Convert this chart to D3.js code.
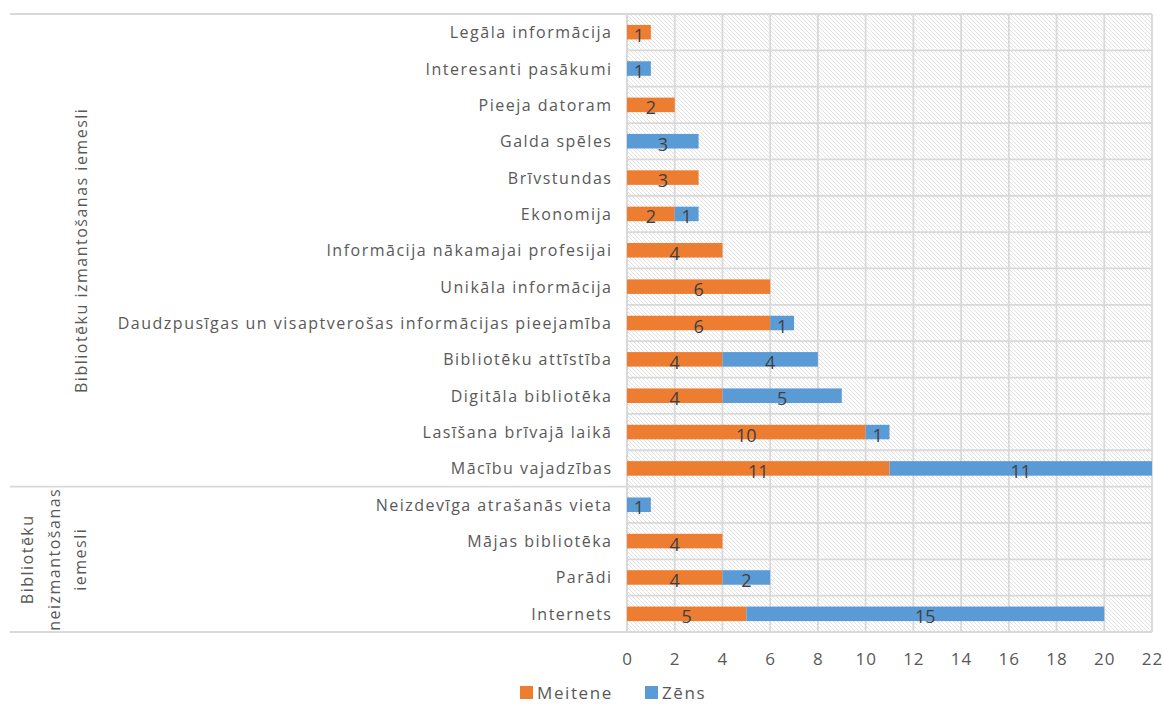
<!DOCTYPE html>
<html>
<head>
<meta charset="utf-8">
<script src="https://cdn.jsdelivr.net/npm/d3@7"></script>
<style>
  body { margin: 0; background: #fff; }
  text { font-family: "Open Sans", "Noto Sans", sans-serif; }
</style>
</head>
<body>
<svg id="chart" width="1164" height="704"></svg>
<script>
// data
var groups = ["Bibliotēku izmantošanas iemesli", "Bibliotēku neizmantošanas iemesli"];
var categories = [
    "Legāla informācija", "Interesanti pasākumi", "Pieeja datoram", "Galda spēles",
    "Brīvstundas", "Ekonomija", "Informācija nākamajai profesijai", "Unikāla informācija",
    "Daudzpusīgas un visaptverošas informācijas pieejamība", "Bibliotēku attīstība",
    "Digitāla bibliotēka", "Lasīšana brīvajā laikā", "Mācību vajadzības",
    "Neizdevīga atrašanās vieta", "Mājas bibliotēka", "Parādi", "Internets"
];
var categoryGroup = [0,0,0,0,0,0,0,0,0,0,0,0,0,1,1,1,1];
var meitene = [1, 0, 2, 0, 3, 2, 4, 6, 6, 4, 4, 10, 11, 0, 4, 4, 5];
var zens    = [0, 1, 0, 3, 0, 1, 0, 0, 1, 4, 5, 1, 11, 1, 0, 2, 15];
var seriesNames = ["Meitene", "Zēns"];
var xTicks = [0, 2, 4, 6, 8, 10, 12, 14, 16, 18, 20, 22];

var colors = ["#ED7D31", "#5B9BD5"];
var gridColor = "#d9d9d9";
var textColor = "#595959";
var ls = 1.5; // letter spacing of the labels

var svg = d3.select("#chart");
var pLeft = 627, pRight = 1152, pTop = 14, pBottom = 632;

var x = d3.scaleLinear().domain([0, 22]).range([pLeft, pRight]);
var y = d3.scaleBand().domain(categories).range([pTop, pBottom]).paddingInner(0.6).paddingOuter(0.3);
var half = (y.step() - y.bandwidth()) / 2;

// hatch background
var defs = svg.append("defs");
var pat = defs.append("pattern").attr("id", "hatch").attr("patternUnits", "userSpaceOnUse")
    .attr("width", 4).attr("height", 4);
pat.append("rect").attr("width", 4).attr("height", 4).attr("fill", "#fff");
pat.append("path").attr("d", "M-1,-1 L5,5 M-1,3 L1,5 M3,-1 L5,1")
    .attr("stroke", "#d6d6d6").attr("stroke-width", 0.7);
svg.append("rect").attr("x", pLeft).attr("y", pTop).attr("width", pRight - pLeft).attr("height", pBottom - pTop)
    .attr("fill", "url(#hatch)");

// grid
svg.append("g").selectAll("line").data(xTicks).join("line")
    .attr("x1", d => x(d)).attr("x2", d => x(d)).attr("y1", pTop).attr("y2", pBottom)
    .attr("stroke", gridColor).attr("stroke-width", 1.8);
var bounds = categories.map(c => y(c) - half).concat([pBottom]);
svg.append("g").selectAll("line").data(bounds).join("line")
    .attr("x1", pLeft).attr("x2", pRight).attr("y1", d => d).attr("y2", d => d)
    .attr("stroke", gridColor).attr("stroke-width", 1.8);

// group separators on the category axis
var groupBounds = [pTop];
categories.forEach(function(c, i) {
    if (i > 0 && categoryGroup[i] !== categoryGroup[i - 1]) groupBounds.push(y(c) - half);
});
groupBounds.push(pBottom);
svg.append("g").selectAll("line").data(groupBounds).join("line")
    .attr("x1", 10).attr("x2", pLeft).attr("y1", d => d).attr("y2", d => d)
    .attr("stroke", gridColor).attr("stroke-width", 1.8);
svg.append("line").attr("x1", pLeft).attr("x2", pLeft).attr("y1", pTop).attr("y2", pBottom)
    .attr("stroke", gridColor).attr("stroke-width", 1.8);

// bars
var stacked = categories.map((c, i) => ({ c: c, segs: [
    { s: 0, x0: 0, x1: meitene[i], v: meitene[i] },
    { s: 1, x0: meitene[i], x1: meitene[i] + zens[i], v: zens[i] }
]}));
var rows = svg.append("g").selectAll("g").data(stacked).join("g");
rows.selectAll("rect").data(d => d.segs.map(s => Object.assign({ c: d.c }, s)).filter(s => s.v > 0)).join("rect")
    .attr("x", d => x(d.x0)).attr("width", d => x(d.x1) - x(d.x0))
    .attr("y", d => y(d.c)).attr("height", y.bandwidth())
    .attr("fill", d => colors[d.s]);
rows.selectAll("text").data(d => d.segs.map(s => Object.assign({ c: d.c }, s)).filter(s => s.v > 0)).join("text")
    .attr("x", d => (x(d.x0) + x(d.x1)) / 2).attr("y", d => y(d.c) + y.bandwidth() / 2 + 9.5)
    .attr("text-anchor", "middle").attr("font-size", 18).attr("fill", "#404040")
    .text(d => d.v);

// category labels
svg.append("g").selectAll("text").data(categories).join("text")
    .attr("x", pLeft - 16 + ls).attr("y", d => y(d) + y.bandwidth() / 2 + 6)
    .attr("text-anchor", "end").attr("font-size", 16).attr("letter-spacing", ls).attr("fill", textColor)
    .text(d => d);

// group labels
function groupMid(g) {
    var idx = categories.map((c, i) => i).filter(i => categoryGroup[i] === g);
    return (y(categories[idx[0]]) - half + y(categories[idx[idx.length - 1]]) + y.bandwidth() + half) / 2;
}
svg.append("text").attr("transform", "translate(87," + groupMid(0) + ") rotate(-90)")
    .attr("text-anchor", "middle").attr("font-size", 16).attr("letter-spacing", ls)
    .attr("fill", textColor).text(groups[0]);
var g2 = svg.append("text").attr("transform", "translate(0," + groupMid(1) + ") rotate(-90)")
    .attr("text-anchor", "middle").attr("font-size", 16).attr("letter-spacing", ls).attr("fill", textColor);
["Bibliotēku", "neizmantošanas", "iemesli"].forEach(function(t, i) {
    g2.append("tspan").attr("x", 0).attr("y", 33 + i * 26.5).text(t);
});

// x axis
var ax = svg.append("g").attr("transform", "translate(0," + pBottom + ")")
    .call(d3.axisBottom(x).tickValues(xTicks).tickSize(0).tickPadding(21));
ax.select(".domain").remove();
ax.selectAll("text").attr("font-size", 17).attr("letter-spacing", 1).attr("fill", textColor)
    .attr("font-family", "\"Open Sans\", sans-serif");

// legend
var legX = [520, 645];
var leg = svg.append("g").selectAll("g").data(seriesNames).join("g")
    .attr("transform", (d, i) => "translate(" + legX[i] + ",686)");
leg.append("rect").attr("width", 13).attr("height", 13).attr("fill", (d, i) => colors[i]);
leg.append("text").attr("x", 17).attr("y", 13).attr("font-size", 17).attr("letter-spacing", 1.6)
    .attr("fill", textColor).text(d => d);
</script>
</body>
</html>
